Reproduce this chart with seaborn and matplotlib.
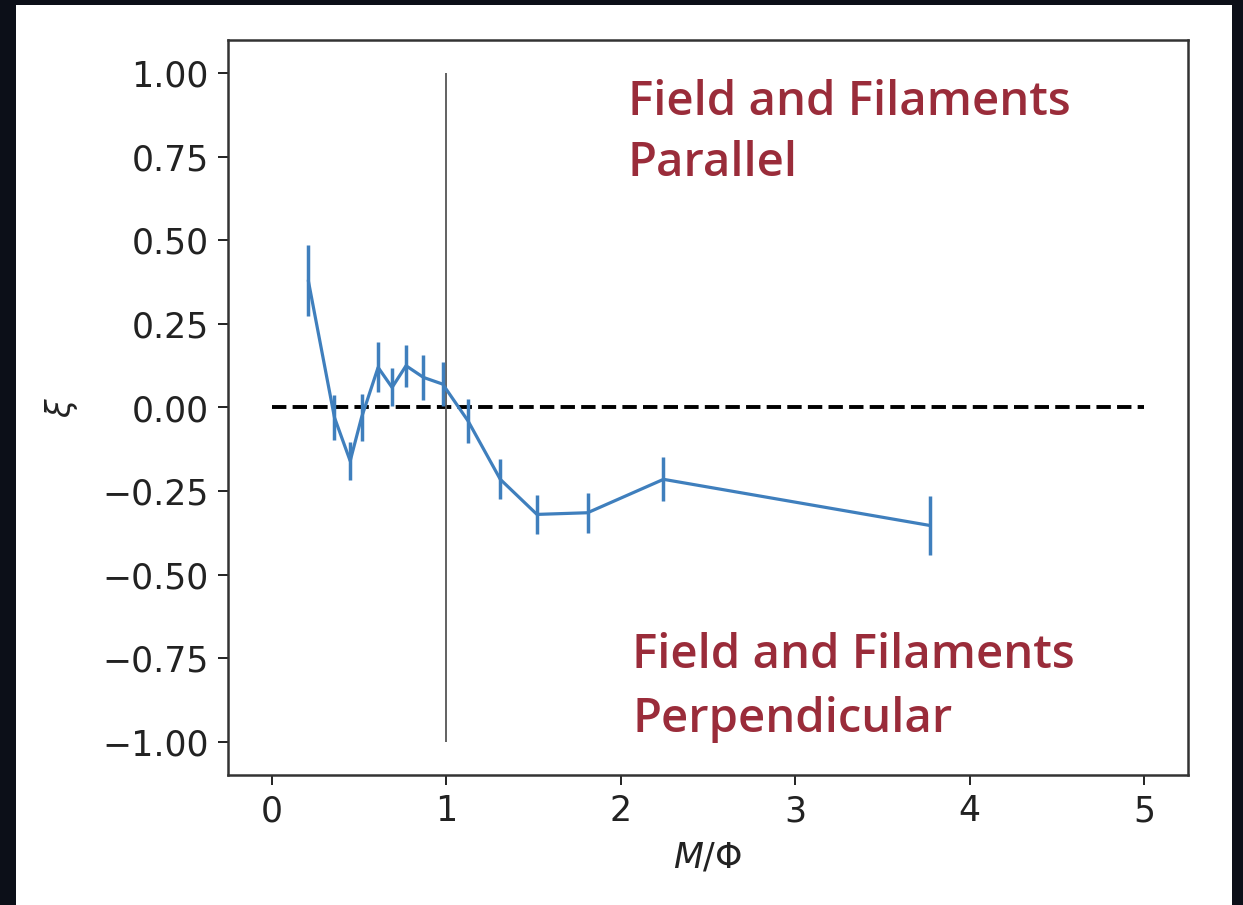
import matplotlib
matplotlib.use("Agg")
import matplotlib.pyplot as plt
from matplotlib.patches import Rectangle
import seaborn as sns
import pandas as pd

# Alignment parameter xi versus mass-to-flux ratio, with 1-sigma uncertainties
mass_to_flux = [0.21, 0.36, 0.45, 0.515, 0.61, 0.69, 0.77, 0.87, 0.98,
                1.125, 1.31, 1.52, 1.81, 2.245, 3.77]
xi = [0.38, -0.03, -0.16, -0.03, 0.12, 0.06, 0.125, 0.09, 0.07,
      -0.04, -0.215, -0.32, -0.315, -0.215, -0.353]
xi_err = [0.105, 0.066, 0.058, 0.07, 0.075, 0.057, 0.063, 0.067, 0.067,
          0.066, 0.06, 0.058, 0.06, 0.066, 0.087]

# region annotations: (x, baseline y, text)
labels_parallel = [(2.04, 0.877, "Field and Filaments"), (2.04, 0.692, "Parallel")]
labels_perp = [(2.065, -0.781, "Field and Filaments"), (2.065, -0.970, "Perpendicular")]

df = pd.DataFrame({"M/Phi": mass_to_flux, "xi": xi, "err": xi_err})

sns.set_theme(style="white")
plt.rcParams["font.family"] = ["DejaVu Sans"]
plt.rcParams["mathtext.fontset"] = "dejavusans"

fig = plt.figure(figsize=(12.43, 9.05), dpi=100)
fig.patch.set_facecolor("#0c0f18")
# white canvas panel behind the plot
fig.patches.append(Rectangle((16 / 1243, 0), (1232 - 16) / 1243, 1 - 5 / 905,
                             transform=fig.transFigure, facecolor="white",
                             edgecolor="none", zorder=-10))
ax = fig.add_axes([228 / 1243, 1 - 775 / 905, (1188 - 228) / 1243, (775 - 40) / 905])
ax.set_zorder(5)
ax.set_facecolor("white")

blue = "#3f7fbd"
sns.lineplot(data=df, x="M/Phi", y="xi", ax=ax, color=blue, lw=2.3, zorder=3)
ax.errorbar(df["M/Phi"], df["xi"], yerr=df["err"], fmt="none",
            ecolor=blue, elinewidth=2.5, capsize=0, zorder=3)

# zero-alignment reference and the critical M/Phi = 1 boundary
ax.hlines(0, 0, 5, colors="black", linestyles="--", lw=2.8, zorder=2)
ax.vlines(1, -1, 1, colors="#555555", lw=1.3, zorder=2)

ax.set_xlim(-0.25, 5.25)
ax.set_ylim(-1.1, 1.1)
ax.set_xticks([0, 1, 2, 3, 4, 5])
ax.set_yticks([-1.0, -0.75, -0.5, -0.25, 0.0, 0.25, 0.5, 0.75, 1.0])
ax.set_yticklabels(["\u22121.00", "\u22120.75", "\u22120.50", "\u22120.25", "0.00",
                    "0.25", "0.50", "0.75", "1.00"])

ax.tick_params(axis="both", labelsize=25, length=7, width=1.4, pad=7,
               colors="#222222", bottom=True, left=True)
for s in ax.spines.values():
    s.set_visible(True)
    s.set_color("#333333")
    s.set_linewidth(1.8)

ax.set_xlabel(r"$M/\Phi$", fontsize=25, labelpad=9, color="#222222")
ax.set_ylabel(r"$\xi$", fontsize=24, labelpad=16, color="#222222")

red = "#9a2c3a"
for x, y, s in labels_parallel + labels_perp:
    ax.text(x, y, s, fontsize=34, family=["Open Sans", "DejaVu Sans"],
            fontweight="semibold", color=red, ha="left", va="baseline")

fig.savefig("out.png", dpi=100, facecolor=fig.get_facecolor())
